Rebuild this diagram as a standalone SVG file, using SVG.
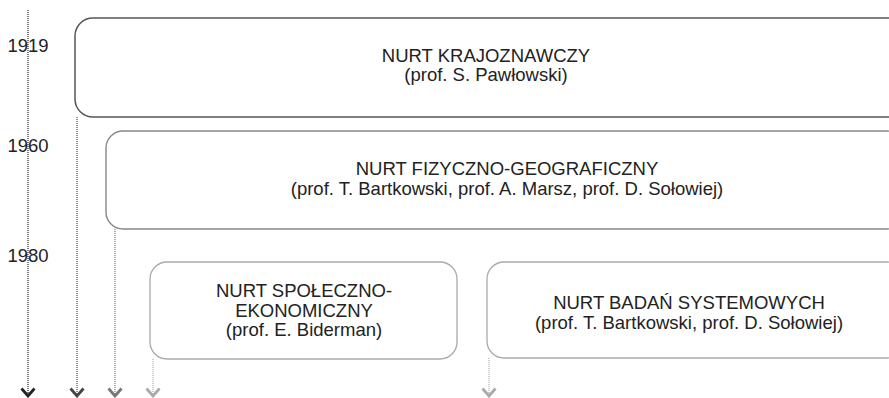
<svg xmlns="http://www.w3.org/2000/svg" width="889" height="398" viewBox="0 0 889 398">
<style>
text{font-family:"Liberation Sans",Arial,sans-serif;font-size:18.5px;fill:#222;text-anchor:middle}
.box{fill:#fff}
.ln{fill:none;stroke-width:1.2;stroke-dasharray:1 1}
.ah{fill:none;stroke-width:2.8;stroke-linejoin:miter}
</style>
<g id="connectors">
<line class="ln" x1="28" y1="10" x2="28" y2="394" stroke="#222"/>
<polyline class="ah" points="21.5,388.5 28,396 34.5,388.5" stroke="#222"/>
<line class="ln" x1="77" y1="117" x2="77" y2="394" stroke="#444"/>
<polyline class="ah" points="70.5,388.5 77,396 83.5,388.5" stroke="#444"/>
<line class="ln" x1="115" y1="229" x2="115" y2="394" stroke="#777"/>
<polyline class="ah" points="108.5,388.5 115,396 121.5,388.5" stroke="#777"/>
<line class="ln" x1="153" y1="359" x2="153" y2="394" stroke="#aaa"/>
<polyline class="ah" points="146.5,388.5 153,396 159.5,388.5" stroke="#aaa"/>
<line class="ln" x1="489" y1="358" x2="489" y2="394" stroke="#aaa"/>
<polyline class="ah" points="482.5,388.5 489,396 495.5,388.5" stroke="#aaa"/>
</g>
<g id="years">
<text x="28" y="52">1919</text>
<text x="28" y="152">1960</text>
<text x="28" y="262">1980</text>
</g>
<g id="n1">
<rect class="box" x="75" y="18" width="830" height="99" rx="18" stroke="#555" stroke-width="1.5"/>
<text x="486" y="62">NURT KRAJOZNAWCZY</text>
<text x="486" y="81">(prof. S. Pawłowski)</text>
</g>
<g id="n2">
<rect class="box" x="106" y="131" width="798" height="98" rx="17" stroke="#888" stroke-width="1.4"/>
<text x="507" y="175">NURT FIZYCZNO-GEOGRAFICZNY</text>
<text x="507" y="195">(prof. T. Bartkowski, prof. A. Marsz, prof. D. Sołowiej)</text>
</g>
<g id="n3">
<rect class="box" x="150" y="262" width="307" height="97" rx="17" stroke="#aaa" stroke-width="1.3"/>
<text x="304" y="297">NURT SPOŁECZNO-</text>
<text x="304" y="317">EKONOMICZNY</text>
<text x="304" y="336">(prof. E. Biderman)</text>
</g>
<g id="n4">
<rect class="box" x="487" y="262" width="417" height="96" rx="17" stroke="#aaa" stroke-width="1.3"/>
<text x="689" y="309">NURT BADAŃ SYSTEMOWYCH</text>
<text x="689" y="329">(prof. T. Bartkowski, prof. D. Sołowiej)</text>
</g>
</svg>
